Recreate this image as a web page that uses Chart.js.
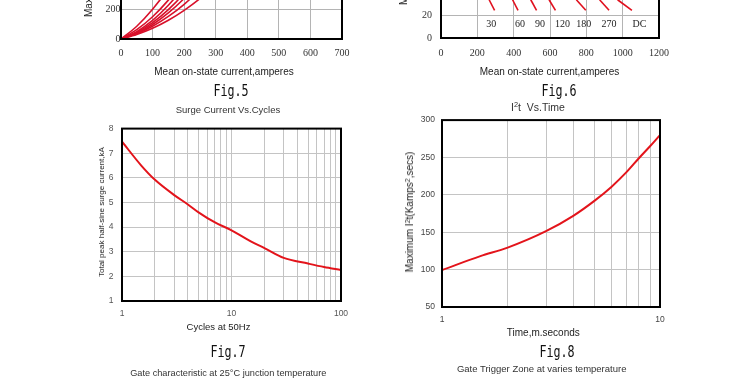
<!DOCTYPE html>
<html>
<head>
<meta charset="utf-8">
<script src="https://cdn.jsdelivr.net/npm/chart.js@4.4.1/dist/chart.umd.min.js"></script>
<style>
  html, body { margin: 0; background: #fff; }
  body { position: relative; width: 750px; height: 379px; overflow: hidden; font-family: "Liberation Sans", Arial, sans-serif; }
  canvas { position: absolute; }
  .t { position: absolute; white-space: nowrap; line-height: 1; color: #222; font-size: 10px; transform: translate(-50%, -50%); }
  .rot { transform: translate(-50%, -50%) rotate(-90deg); }
  .up { transform-origin: 0 0; transform: rotate(-90deg) translateY(-50%); }
  .fig { font-family: "DejaVu Sans Mono", monospace; font-size: 15px; color: #111; transform: translate(-50%, -50%) scaleX(0.78); }
  sup { font-size: 0.7em; vertical-align: 0.45em; line-height: 0; }
</style>
</head>
<body>
<canvas id="fig5"></canvas>
<canvas id="fig6"></canvas>
<canvas id="fig7"></canvas>
<canvas id="fig8"></canvas>

<!-- texts around the plots -->
<div class="t up" style="left:89px;top:17px;">Maximum average power dissipation,watts</div>
<div class="t" style="left:224px;top:71.5px;">Mean on-state current,amperes</div>
<div class="t fig" style="left:231px;top:91px;">Fig.5</div>

<div class="t up" style="left:404px;top:5px;">Maximum allowable case temperature,°C</div>
<div class="t" style="left:549.5px;top:71.5px;">Mean on-state current,amperes</div>
<div class="t fig" style="left:559px;top:91px;">Fig.6</div>

<div class="t" style="left:228px;top:110px;font-size:9.5px;color:#333;">Surge Current Vs.Cycles</div>
<div class="t rot" style="left:101.5px;top:212px;font-size:8px;">Total peak half-sine surge current,kA</div>
<div class="t" style="left:218.5px;top:327px;font-size:9.5px;">Cycles at 50Hz</div>
<div class="t fig" style="left:227.5px;top:351.5px;">Fig.7</div>
<div class="t" style="left:228.3px;top:373.6px;font-size:9.2px;color:#333;">Gate characteristic at 25°C junction temperature</div>

<div class="t" style="left:538px;top:106.5px;font-size:10.5px;color:#333;">I<sup>2</sup>t&nbsp; Vs.Time</div>
<div class="t rot" style="left:410px;top:212px;">Maximum I<sup>2</sup>t(Kamps<sup>2</sup>,secs)</div>
<div class="t" style="left:543.3px;top:333.3px;">Time,m.seconds</div>
<div class="t fig" style="left:556.7px;top:352px;">Fig.8</div>
<div class="t" style="left:541.7px;top:369px;font-size:9.5px;color:#333;">Gate Trigger Zone at varies temperature</div>

<script>
// ---- data ----

// Fig.5: power vs mean current, one curve per conduction angle (only the bottom strip is visible)
const fig5Current = [0, 50, 100, 150, 200, 250, 300];
const fig5Power = [
  [0, 86, 200, 340, 510, 680, 880],
  [0, 63, 150, 262, 398, 560, 746],
  [0, 50, 125, 227, 354, 508, 687],
  [0, 44, 110, 198, 309, 442, 597],
  [0, 39, 98, 176, 273, 388, 524],
  [0, 35, 86, 152, 234, 332, 445],
  [0, 30, 72, 126, 193, 272, 363]
];
const fig5XTicks = [0, 100, 200, 300, 400, 500, 600, 700];
const fig5YTicks = [0, 200, 400, 600];

// Fig.6: case temperature vs current, the curve ends near the top edge
const fig6Angles = ['30', '60', '90', '120', '180', '270', 'DC'];
const fig6StartCurrent = [265, 394, 494, 595, 745, 873, 972];
const fig6EndCurrent = [295, 424, 526, 630, 797, 925, 1051];
const fig6Temp = [34, 24.6];
const fig6LabelCurrent = [277, 435, 545, 669, 786, 925, 1092];
const fig6LabelTemp = 12.2;
const fig6XTicks = [0, 200, 400, 600, 800, 1000, 1200];
const fig6YTicks = [0, 20, 40];

// Fig.7: surge current vs cycles
const fig7Cycles = [1, 1.5, 2, 3, 4, 5, 7, 10, 15, 20, 30, 50, 70, 100];
const fig7Surge = [7.47, 6.5, 5.92, 5.3, 4.92, 4.6, 4.2, 3.87, 3.42, 3.15, 2.75, 2.52, 2.38, 2.26];
const fig7XGrid = [1, 2, 3, 4, 5, 6, 7, 8, 9, 10, 20, 30, 40, 50, 60, 70, 80, 90, 100];
const fig7XLabels = [1, 10, 100];
const fig7YTicks = [1, 2, 3, 4, 5, 6, 7, 8];

// Fig.8: I2t vs time
const fig8Time = [1, 1.5, 2, 3, 4, 5, 6, 7, 8, 9, 10];
const fig8I2t = [99.5, 118, 129.5, 151.5, 172, 192, 211, 230, 249, 265, 280];
const fig8XGrid = [1, 2, 3, 4, 5, 6, 7, 8, 9, 10];
const fig8XLabels = [1, 10];
const fig8YTicks = [50, 100, 150, 200, 250, 300];

// ---- helpers ----
Chart.defaults.font.family = '"Liberation Sans", Arial, sans-serif';
Chart.defaults.animation = false;

const frame = {
  id: 'frame',
  afterDraw(chart) {
    const { ctx, chartArea: a } = chart;
    ctx.save();
    ctx.strokeStyle = '#000';
    ctx.lineWidth = 2;
    ctx.strokeRect(a.left, a.top, a.right - a.left, a.bottom - a.top);
    ctx.restore();
  }
};

const angleText = {
  id: 'angleText',
  afterDatasetsDraw(chart) {
    const { ctx, scales } = chart;
    ctx.save();
    ctx.font = '10px "Liberation Serif", serif';
    ctx.fillStyle = '#222';
    ctx.textAlign = 'center';
    ctx.textBaseline = 'middle';
    fig6Angles.forEach((t, i) => {
      ctx.fillText(t, scales.x.getPixelForValue(fig6LabelCurrent[i]), scales.y.getPixelForValue(fig6LabelTemp));
    });
    ctx.restore();
  }
};

// place canvas so that the plot area lands on the given page box
function mount(id, area) {
  const c = document.getElementById(id);
  c.width = area.r - area.l + 60;
  c.height = area.b - area.t + 50;
  c.style.left = (area.l - 40) + 'px';
  c.style.top = (area.t - 10) + 'px';
  return c;
}

function axis(opts) {
  return {
    type: opts.type || 'linear',
    min: opts.min,
    max: opts.max,
    border: { display: false },
    grid: { color: opts.gridColor, lineWidth: 1, drawTicks: false },
    ticks: {
      autoSkip: false,
      maxRotation: 0,
      minRotation: 0,
      padding: opts.pad,
      color: opts.tickColor,
      font: opts.font,
      callback: opts.label || (v => String(v))
    },
    afterBuildTicks: s => { s.ticks = opts.ticks.map(v => ({ value: v })); },
    afterFit: opts.fit
  };
}

function makeChart(id, area, datasets, x, y, plugins) {
  return new Chart(mount(id, area), {
    type: 'line',
    data: { datasets },
    options: {
      responsive: false,
      events: [],
      layout: { padding: { left: 0, top: 10, right: 20, bottom: 10 } },
      plugins: { legend: { display: false }, tooltip: { enabled: false } },
      scales: {
        x: axis(Object.assign({ fit: s => { s.height = 30; } }, x)),
        y: axis(Object.assign({ fit: s => { s.width = 40; } }, y))
      }
    },
    plugins: [frame].concat(plugins || [])
  });
}

const serif = { family: '"Liberation Serif", serif', size: 10, lineHeight: 1.2 };
const sans = { family: '"Liberation Sans", Arial, sans-serif', size: 8.5, lineHeight: 1.2 };

// Fig.5
makeChart('fig5', { l: 121, r: 342, t: -50, b: 39 },
  fig5Power.map(p => ({
    data: fig5Current.map((c, i) => ({ x: c, y: p[i] })),
    borderColor: '#d8102a', borderWidth: 1.6, pointRadius: 0, cubicInterpolationMode: 'monotone'
  })),
  { min: 0, max: 700, ticks: fig5XTicks, gridColor: '#b4b4b4', pad: 8.3, tickColor: '#333', font: serif },
  { min: 0, max: 600, ticks: fig5YTicks, gridColor: '#b4b4b4', pad: 0.5, tickColor: '#333', font: serif });

// Fig.6
makeChart('fig6', { l: 441, r: 659, t: -12, b: 38 },
  fig6StartCurrent.map((s, i) => ({
    data: [{ x: s, y: fig6Temp[0] }, { x: fig6EndCurrent[i], y: fig6Temp[1] }],
    borderColor: '#e0101e', borderWidth: 1.6, pointRadius: 0
  })),
  { min: 0, max: 1200, ticks: fig6XTicks, gridColor: '#b4b4b4', pad: 9.3, tickColor: '#333', font: serif },
  { min: 0, max: 40, ticks: fig6YTicks, gridColor: '#b4b4b4', pad: 9, tickColor: '#333', font: serif },
  [angleText]);

// Fig.7
makeChart('fig7', { l: 122, r: 341, t: 125, b: 301 },
  [{
    data: fig7Cycles.map((c, i) => ({ x: c, y: fig7Surge[i] })),
    borderColor: '#e3141b', borderWidth: 2, pointRadius: 0, cubicInterpolationMode: 'monotone'
  }],
  { type: 'logarithmic', min: 1, max: 100, ticks: fig7XGrid, gridColor: '#c4c4c4', pad: 7.9, tickColor: '#555', font: sans,
    label: v => fig7XLabels.includes(v) ? String(v) : '' },
  { min: 1, max: 8, ticks: fig7YTicks, gridColor: '#c4c4c4', pad: 8.5, tickColor: '#555', font: sans });

// Fig.8
makeChart('fig8', { l: 442, r: 660, t: 118, b: 307 },
  [{
    data: fig8Time.map((t, i) => ({ x: t, y: fig8I2t[i] })),
    borderColor: '#e3141b', borderWidth: 2, pointRadius: 0, cubicInterpolationMode: 'monotone'
  }],
  { type: 'logarithmic', min: 1, max: 10, ticks: fig8XGrid, gridColor: '#c4c4c4', pad: 7.9, tickColor: '#444', font: sans,
    label: v => fig8XLabels.includes(v) ? String(v) : '' },
  { min: 50, max: 300, ticks: fig8YTicks, gridColor: '#c4c4c4', pad: 7, tickColor: '#444', font: sans });
</script>
</body>
</html>
